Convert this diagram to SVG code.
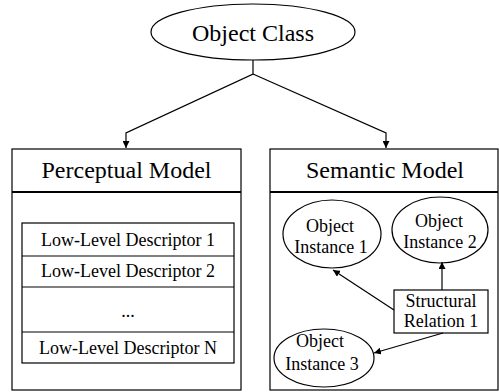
<svg xmlns="http://www.w3.org/2000/svg" width="499" height="392" viewBox="0 0 499 392" font-family="Liberation Serif, DejaVu Serif, serif">
  <defs>
    <marker id="arrow" viewBox="0 0 10 10" refX="10" refY="5" markerWidth="7" markerHeight="7" orient="auto" markerUnits="userSpaceOnUse">
      <path d="M0,0 L10,5 L0,10 Z" fill="#000"/>
    </marker>
  </defs>
  <style>
    .shape { fill: #fff; stroke: #000; stroke-width: 1.2; }
    .line { fill: none; stroke: #000; stroke-width: 1.2; }
    .divider { stroke: #000; stroke-width: 1.8; }
    .label { fill: #000; text-anchor: middle; }
    .big { font-size: 24px; }
    .small { font-size: 18px; }
  </style>
  <rect width="499" height="392" fill="#fff"/>

  <!-- top class -->
  <g id="object-class">
    <ellipse class="shape" cx="253" cy="32" rx="102" ry="28"/>
    <text class="label big" font-family="Liberation Serif" x="253" y="41">Object Class</text>
  </g>

  <!-- perceptual model -->
  <g id="perceptual-model">
    <rect class="shape" x="12" y="149" width="229" height="241"/>
    <line class="divider" x1="12" y1="192" x2="241" y2="192"/>
    <text class="label big" font-family="Liberation Serif" x="126.5" y="178">Perceptual Model</text>
  </g>
  <g id="descriptor-list">
    <rect class="shape" x="22" y="223" width="212" height="140"/>
    <line class="line" x1="22" y1="256" x2="234" y2="256"/>
    <line class="line" x1="22" y1="287" x2="234" y2="287"/>
    <line class="line" x1="22" y1="332" x2="234" y2="332"/>
    <text class="label small" font-family="Liberation Serif" x="128" y="246">Low-Level Descriptor 1</text>
    <text class="label small" font-family="Liberation Serif" x="128" y="277">Low-Level Descriptor 2</text>
    <text class="label small" font-family="Liberation Serif" x="128" y="317">...</text>
    <text class="label small" font-family="Liberation Serif" x="128" y="354">Low-Level Descriptor N</text>
  </g>

  <!-- semantic model -->
  <g id="semantic-model">
    <rect class="shape" x="270" y="149" width="228" height="241"/>
    <line class="divider" x1="270" y1="192" x2="498" y2="192"/>
    <text class="label big" font-family="Liberation Serif" x="385" y="178">Semantic Model</text>
  </g>
  <g id="object-instance-1">
    <ellipse class="shape" cx="332" cy="234" rx="49" ry="34"/>
    <text class="label small" font-family="Liberation Serif" x="330" y="232">Object</text>
    <text class="label small" font-family="Liberation Serif" x="331" y="253">Instance 1</text>
  </g>
  <g id="object-instance-2">
    <ellipse class="shape" cx="440" cy="230" rx="48" ry="33"/>
    <text class="label small" font-family="Liberation Serif" x="439" y="227">Object</text>
    <text class="label small" font-family="Liberation Serif" x="440" y="248">Instance 2</text>
  </g>
  <g id="object-instance-3">
    <ellipse class="shape" cx="324" cy="358" rx="50" ry="29"/>
    <text class="label small" font-family="Liberation Serif" x="320" y="347">Object</text>
    <text class="label small" font-family="Liberation Serif" x="322" y="370">Instance 3</text>
  </g>
  <g id="structural-relation-1">
    <rect class="shape" x="394" y="290" width="94" height="43"/>
    <text class="label small" font-family="Liberation Serif" x="441" y="307">Structural</text>
    <text class="label small" font-family="Liberation Serif" x="441" y="327">Relation 1</text>
  </g>

  <!-- connectors, drawn over the boxes -->
  <g id="connectors">
    <path class="line" d="M253,60 V74 L126,133 V148" marker-end="url(#arrow)"/>
    <path class="line" d="M253,74 L386,133 V148" marker-end="url(#arrow)"/>
    <line class="line" x1="394" y1="310" x2="333" y2="270" marker-end="url(#arrow)"/>
    <line class="line" x1="442" y1="290" x2="442" y2="262" marker-end="url(#arrow)"/>
    <line class="line" x1="443" y1="333" x2="374" y2="353" marker-end="url(#arrow)"/>
  </g>
</svg>
